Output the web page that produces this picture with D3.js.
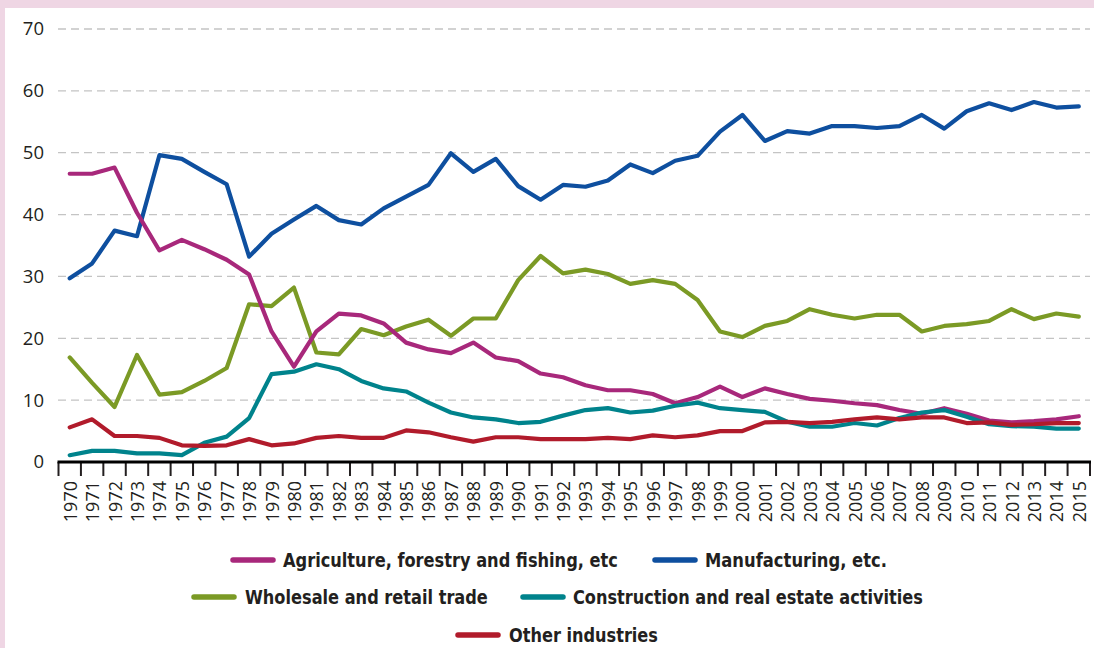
<!DOCTYPE html>
<html>
<head>
<meta charset="utf-8">
<script src="https://cdn.jsdelivr.net/npm/d3@7"></script>
<style>
    body { margin: 0; background: #efd6e4; }
    #chart { display: block; }
</style>
</head>
<body>
<svg id="chart" width="1094" height="648"></svg>
<script>
// shares by industry, 1970-2015
var years = d3.range(1970, 2016).map(String);

var agriculture = [46.6, 46.6, 47.6, 40.3, 34.2, 35.9, 34.4, 32.7, 30.3, 21.1,
    15.4, 21.1, 24.0, 23.7, 22.4, 19.3, 18.2, 17.6, 19.3, 16.9,
    16.3, 14.3, 13.7, 12.4, 11.6, 11.6, 11.0, 9.5, 10.5, 12.2,
    10.5, 11.9, 11.0, 10.2, 9.9, 9.5, 9.2, 8.4, 7.8, 8.7,
    7.8, 6.7, 6.4, 6.6, 6.9, 7.4];
var manufacturing = [29.7, 32.1, 37.4, 36.5, 49.6, 49.0, 46.9, 44.9, 33.2, 36.9,
    39.2, 41.4, 39.1, 38.4, 41.0, 42.9, 44.8, 49.9, 46.9, 49.0,
    44.6, 42.4, 44.8, 44.5, 45.5, 48.1, 46.7, 48.7, 49.5, 53.4,
    56.1, 51.9, 53.5, 53.1, 54.3, 54.3, 54.0, 54.3, 56.1, 53.9,
    56.7, 58.0, 56.9, 58.2, 57.3, 57.5];
var wholesale = [16.9, 12.8, 8.9, 17.3, 10.9, 11.3, 13.1, 15.2, 25.5, 25.2,
    28.2, 17.7, 17.4, 21.5, 20.5, 21.9, 23.0, 20.4, 23.2, 23.2,
    29.4, 33.3, 30.5, 31.1, 30.4, 28.8, 29.4, 28.8, 26.2, 21.1,
    20.2, 22.0, 22.8, 24.7, 23.8, 23.2, 23.8, 23.8, 21.1, 22.0,
    22.3, 22.8, 24.7, 23.1, 24.0, 23.5];
var construction = [1.1, 1.8, 1.8, 1.4, 1.4, 1.1, 3.1, 4.1, 7.1, 14.2,
    14.6, 15.8, 15.0, 13.1, 11.9, 11.4, 9.6, 8.0, 7.2, 6.9,
    6.3, 6.5, 7.5, 8.4, 8.7, 8.0, 8.3, 9.1, 9.6, 8.7,
    8.4, 8.1, 6.5, 5.7, 5.7, 6.3, 5.9, 7.1, 8.0, 8.4,
    7.3, 6.1, 5.8, 5.7, 5.4, 5.4];
var other = [5.6, 6.9, 4.2, 4.2, 3.9, 2.7, 2.6, 2.7, 3.7, 2.7,
    3.0, 3.9, 4.2, 3.9, 3.9, 5.1, 4.8, 4.0, 3.3, 4.0,
    4.0, 3.7, 3.7, 3.7, 3.9, 3.7, 4.3, 4.0, 4.3, 5.0,
    5.0, 6.4, 6.5, 6.3, 6.5, 6.9, 7.2, 6.9, 7.2, 7.2,
    6.3, 6.4, 6.0, 6.1, 6.3, 6.3];

var yTicks = [0, 10, 20, 30, 40, 50, 60, 70];

var series = [
    { name: "Agriculture, forestry and fishing, etc", values: agriculture, color: "#a8287b" },
    { name: "Manufacturing, etc.", values: manufacturing, color: "#0e4f9f" },
    { name: "Wholesale and retail trade", values: wholesale, color: "#7b9a25" },
    { name: "Construction and real estate activities", values: construction, color: "#00838c" },
    { name: "Other industries", values: other, color: "#b11b2b" }
];
// draw order: last on top
var drawOrder = [1, 2, 0, 3, 4];

var svg = d3.select("#chart");

svg.append("rect")
    .attr("x", 5)
    .attr("y", 8)
    .attr("width", 1094)
    .attr("height", 648)
    .attr("fill", "#fff");

var x = d3.scaleBand()
    .domain(years)
    .range([58.5, 1090]);

var y = d3.scaleLinear()
    .domain([0, 70])
    .range([462, 29]);

// dashed grid
svg.append("g")
    .selectAll("line")
    .data(yTicks.filter(function(d) { return d > 0; }))
    .enter().append("line")
    .attr("x1", 58)
    .attr("x2", 1090)
    .attr("y1", function(d) { return y(d); })
    .attr("y2", function(d) { return y(d); })
    .attr("stroke", "#c4c4c4")
    .attr("stroke-width", 1.3)
    .attr("stroke-dasharray", "8,5");

// y axis labels only
var yAxis = svg.append("g")
    .attr("transform", "translate(44,0)")
    .call(d3.axisLeft(y).tickValues(yTicks).tickSize(0).tickPadding(0));
yAxis.select(".domain").remove();
yAxis.selectAll("text")
    .attr("font-family", "'Open Sans', 'Noto Sans', sans-serif")
    .attr("font-size", 18.5)
    .attr("fill", "#231f20");

// x axis with ticks on band edges
var edges = years.map(function(d) { return x(d); }).concat([x.range()[1]]);
var xg = svg.append("g");
xg.selectAll("line.tick")
    .data(edges)
    .enter().append("line")
    .attr("class", "tick")
    .attr("x1", function(d) { return d; })
    .attr("x2", function(d) { return d; })
    .attr("y1", 462)
    .attr("y2", 476)
    .attr("stroke", "#231f20")
    .attr("stroke-width", 2);
xg.append("line")
    .attr("x1", 57.5)
    .attr("x2", 1091)
    .attr("y1", 462)
    .attr("y2", 462)
    .attr("stroke", "#000")
    .attr("stroke-width", 3);
xg.selectAll("text")
    .data(years)
    .enter().append("text")
    .attr("transform", function(d) {
        return "translate(" + (x(d) + x.bandwidth() / 2 + 7) + ",481) rotate(-90)";
    })
    .attr("text-anchor", "end")
    .attr("font-family", "'Open Sans', 'Noto Sans', sans-serif")
    .attr("font-size", 18)
    .attr("fill", "#231f20")
    .text(function(d) { return d; });

var line = d3.line()
    .x(function(d, i) { return x(years[i]) + x.bandwidth() / 2; })
    .y(function(d) { return y(d); });

svg.append("g")
    .selectAll("path")
    .data(drawOrder.map(function(i) { return series[i]; }))
    .enter().append("path")
    .attr("fill", "none")
    .attr("stroke", function(d) { return d.color; })
    .attr("stroke-width", 4.2)
    .attr("stroke-linejoin", "round")
    .attr("stroke-linecap", "round")
    .attr("d", function(d) { return line(d.values); });

// legend (x, y of swatch start; tx = text start, w = text width)
var legendPos = [
    { x: 233, y: 560, tx: 283, w: 335 },
    { x: 655, y: 560, tx: 705, w: 182 },
    { x: 194, y: 597, tx: 245, w: 243 },
    { x: 523, y: 597, tx: 573, w: 350 },
    { x: 458, y: 635, tx: 509, w: 149 }
];
var legend = svg.append("g")
    .selectAll("g")
    .data(series)
    .enter().append("g")
    .attr("transform", function(d, i) {
        return "translate(" + legendPos[i].x + "," + legendPos[i].y + ")";
    });
legend.append("line")
    .attr("x1", 0)
    .attr("x2", 40)
    .attr("stroke", function(d) { return d.color; })
    .attr("stroke-width", 5.5)
    .attr("stroke-linecap", "round");
legend.append("text")
    .attr("dy", "0.36em")
    .attr("font-family", "'DejaVu Sans Condensed', 'Roboto', sans-serif")
    .attr("font-weight", "bold")
    .attr("font-size", 19.5)
    .attr("fill", "#231f20")
    .text(function(d) { return d.name; })
    .attr("transform", function(d, i) {
        var p = legendPos[i];
        var k = p.w / this.getComputedTextLength();
        return "translate(" + (p.tx - p.x) + ",0) scale(" + k + ",1)";
    });
</script>
</body>
</html>
